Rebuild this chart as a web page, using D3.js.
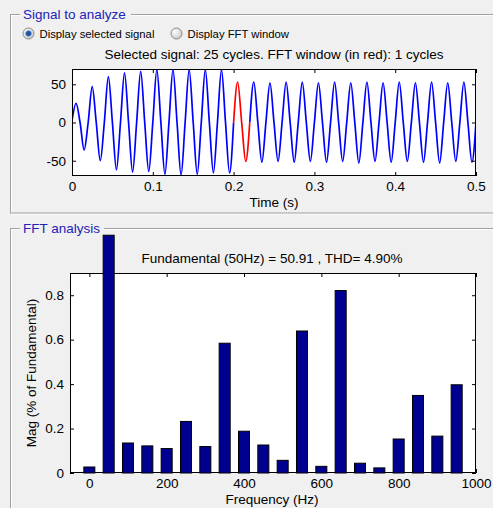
<!DOCTYPE html>
<html><head><meta charset="utf-8">
<script src="https://cdn.jsdelivr.net/npm/d3@7"></script>
<style>
html,body{margin:0;padding:0;background:#f0f0f0;overflow:hidden;}
svg{display:block;font-family:"Liberation Sans",Arial,sans-serif;}
</style></head><body>
<script>
// ---------- data ----------
const signalStartValue = 2;
// extrema of each half cycle (50 Hz signal, 25 cycles)
const halfCycleExtrema = [
  25,-36, 47,-50, 60,-62, 65,-65, 67,-64,
  69,-68, 69,-69, 69,-68, 69,-66, 69,-66,
  53,-51, 53,-52, 52,-51, 53,-52, 53,-51,
  52,-52, 53,-51, 52,-53, 53,-51, 52,-52,
  53,-51, 52,-52, 53,-53, 52,-51, 53,-52
];
const fftWindow = [0.2, 0.22];
const timeTicks = [0, 0.1, 0.2, 0.3, 0.4, 0.5];
const timeTickLabels = ["0", "0.1", "0.2", "0.3", "0.4", "0.5"];
const ampTicks = [-50, 0, 50];
const ampTickLabels = ["-50", "0", "50"];

const freqs = [0,50,100,150,200,250,300,350,400,450,500,550,600,650,700,750,800,850,900,950];
const mags  = [0.027,1.07,0.135,0.122,0.110,0.232,0.119,0.584,0.188,0.126,0.057,0.639,0.030,0.821,0.044,0.023,0.153,0.349,0.166,0.397];
const freqTicks = [0, 200, 400, 600, 800, 1000];
const freqTickLabels = ["0", "200", "400", "600", "800", "1000"];
const magTicks = [0, 0.2, 0.4, 0.6, 0.8];
const magTickLabels = ["0", "0.2", "0.4", "0.6", "0.8"];

const topTitle = "Selected signal: 25 cycles. FFT window (in red): 1 cycles";
const fftTitle = "Fundamental (50Hz) = 50.91 , THD= 4.90%";

// ---------- drawing ----------
const W = 493, H = 508;
const svg = d3.select("body").append("svg").attr("width", W).attr("height", H);
svg.append("rect").attr("width", W).attr("height", H).attr("fill", "#f0f0f0");

const FS = 13.5;

function groupBox(y, h, title, titleW) {
  const g = svg.append("g");
  g.append("rect").attr("x", 11.5).attr("y", y + 1).attr("width", 520).attr("height", h)
    .attr("fill", "none").attr("stroke", "#ffffff");
  g.append("rect").attr("x", 10.5).attr("y", y).attr("width", 520).attr("height", h)
    .attr("fill", "none").attr("stroke", "#a0a0a0");
  g.append("rect").attr("x", 20).attr("y", y - 8).attr("width", titleW).attr("height", 14).attr("fill", "#f0f0f0");
  g.append("text").attr("x", 23).attr("y", y + 4.5).attr("font-size", FS).attr("fill", "#2222b8").text(title);
}
groupBox(14.5, 198.5, "Signal to analyze", 111);
groupBox(228.5, 300, "FFT analysis", 84);

// radio buttons
function radio(cx, cy, selected, label) {
  const defs = svg.append("defs");
  const id = "rg" + cx;
  const gr = defs.append("radialGradient").attr("id", id).attr("cx", "35%").attr("cy", "35%").attr("r", "70%");
  gr.append("stop").attr("offset", "0%").attr("stop-color", "#ffffff");
  gr.append("stop").attr("offset", "100%").attr("stop-color", "#c8c8c8");
  svg.append("circle").attr("cx", cx).attr("cy", cy).attr("r", 5.5).attr("fill", `url(#${id})`).attr("stroke", "#8a8a8a");
  if (selected) {
    svg.append("circle").attr("cx", cx).attr("cy", cy).attr("r", 2.8).attr("fill", "#1f4f9f").attr("stroke", "#5a8ad0").attr("stroke-width", 0.8);
  }
  svg.append("text").attr("x", cx + 11).attr("y", cy + 4).attr("font-size", 11.3).attr("fill", "#000").text(label);
}
radio(28.5, 33.5, true, "Display selected signal");
radio(176.5, 33.5, false, "Display FFT window");

// ---------- top plot ----------
const tp = {l: 72, r: 476, t: 69, b: 176};
const xT = d3.scaleLinear().domain([0, 0.5]).range([tp.l, tp.r]);
const yA = d3.scaleLinear().domain([-70, 70]).range([tp.b, tp.t]);

svg.append("text").attr("x", (tp.l + tp.r) / 2).attr("y", 59).attr("text-anchor", "middle")
  .attr("font-size", FS).text(topTitle);

svg.append("rect").attr("x", tp.l).attr("y", tp.t).attr("width", tp.r - tp.l).attr("height", tp.b - tp.t).attr("fill", "#fff");
svg.append("clipPath").attr("id", "clipTop").append("rect")
  .attr("x", tp.l).attr("y", tp.t).attr("width", tp.r - tp.l).attr("height", tp.b - tp.t);

// points: start, then extremum / zero per half cycle
const pts = [{t: 0, v: signalStartValue}];
halfCycleExtrema.forEach((v, k) => {
  pts.push({t: 0.005 + 0.01 * k, v: v});
  pts.push({t: 0.01 * (k + 1), v: 0});
});
const eps = 1e-9;
const seg1 = pts.filter(p => p.t <= fftWindow[0] + eps);
const seg2 = pts.filter(p => p.t >= fftWindow[0] - eps && p.t <= fftWindow[1] + eps);
const seg3 = pts.filter(p => p.t >= fftWindow[1] - eps);
const line = d3.line().x(p => xT(p.t)).y(p => yA(p.v)).curve(d3.curveMonotoneX);
const gl = svg.append("g").attr("clip-path", "url(#clipTop)");
gl.append("path").attr("d", line(seg1)).attr("fill", "none").attr("stroke", "#0000ff").attr("stroke-width", 1.7);
gl.append("path").attr("d", line(seg3)).attr("fill", "none").attr("stroke", "#0000ff").attr("stroke-width", 1.7);
gl.append("path").attr("d", line(seg2)).attr("fill", "none").attr("stroke", "#ff0000").attr("stroke-width", 1.7);

function styleAxis(g, labels) {
  g.selectAll("text").attr("font-size", FS).attr("fill", "#000").attr("font-family", '"Liberation Sans",Arial,sans-serif');
  g.selectAll("line").attr("stroke", "#000");
  g.select(".domain").remove();
}
const axB = svg.append("g").attr("transform", `translate(0,${tp.b})`)
  .call(d3.axisBottom(xT).tickValues(timeTicks).tickFormat((d, i) => timeTickLabels[i]).tickSize(-4).tickPadding(5));
styleAxis(axB);
const axTT = svg.append("g").attr("transform", `translate(0,${tp.t})`)
  .call(d3.axisTop(xT).tickValues(timeTicks).tickFormat("").tickSize(-4));
styleAxis(axTT);
const axL = svg.append("g").attr("transform", `translate(${tp.l},0)`)
  .call(d3.axisLeft(yA).tickValues(ampTicks).tickFormat((d, i) => ampTickLabels[i]).tickSize(-4).tickPadding(6));
styleAxis(axL);
const axR = svg.append("g").attr("transform", `translate(${tp.r},0)`)
  .call(d3.axisRight(yA).tickValues(ampTicks).tickFormat("").tickSize(-4));
styleAxis(axR);
svg.append("rect").attr("x", tp.l + 0.5).attr("y", tp.t + 0.5).attr("width", tp.r - tp.l - 1).attr("height", tp.b - tp.t - 1)
  .attr("fill", "none").attr("stroke", "#000");
svg.append("text").attr("x", (tp.l + tp.r) / 2).attr("y", 207).attr("text-anchor", "middle").attr("font-size", FS).text("Time (s)");

// ---------- bottom plot ----------
const bp = {l: 70, r: 476, t: 273, b: 473};
const xF = d3.scaleLinear().domain([-50, 1000]).range([bp.l, bp.r]);
const yM = d3.scaleLinear().domain([0, 0.9]).range([bp.b, bp.t]);

svg.append("text").attr("x", 272).attr("y", 263).attr("text-anchor", "middle").attr("font-size", FS).text(fftTitle);
svg.append("rect").attr("x", bp.l).attr("y", bp.t).attr("width", bp.r - bp.l).attr("height", bp.b - bp.t).attr("fill", "#fff");

const axFB = svg.append("g").attr("transform", `translate(0,${bp.b})`)
  .call(d3.axisBottom(xF).tickValues(freqTicks).tickFormat((d, i) => freqTickLabels[i]).tickSize(-4).tickPadding(5));
styleAxis(axFB);
const axFT = svg.append("g").attr("transform", `translate(0,${bp.t})`)
  .call(d3.axisTop(xF).tickValues(freqTicks).tickFormat("").tickSize(-4));
styleAxis(axFT);
const axML = svg.append("g").attr("transform", `translate(${bp.l},0)`)
  .call(d3.axisLeft(yM).tickValues(magTicks).tickFormat((d, i) => magTickLabels[i]).tickSize(-4).tickPadding(6));
styleAxis(axML);
const axMR = svg.append("g").attr("transform", `translate(${bp.r},0)`)
  .call(d3.axisRight(yM).tickValues(magTicks).tickFormat("").tickSize(-4));
styleAxis(axMR);
svg.append("rect").attr("x", bp.l + 0.5).attr("y", bp.t + 0.5).attr("width", bp.r - bp.l - 1).attr("height", bp.b - bp.t - 1)
  .attr("fill", "none").attr("stroke", "#000");

const bw = (xF(50) - xF(0)) * 0.57;
svg.append("g").selectAll("rect").data(freqs).join("rect")
  .attr("x", (d) => xF(d) - bw / 2)
  .attr("y", (d, i) => yM(mags[i]))
  .attr("width", bw)
  .attr("height", (d, i) => yM(0) - yM(mags[i]))
  .attr("fill", "#000090").attr("stroke", "#000").attr("stroke-width", 1);

svg.append("text").attr("x", 272).attr("y", 504).attr("text-anchor", "middle").attr("font-size", FS).text("Frequency (Hz)");
svg.append("text").attr("transform", `translate(36,${(bp.t + bp.b) / 2}) rotate(-90)`)
  .attr("text-anchor", "middle").attr("font-size", FS).text("Mag (% of Fundamental)");
</script>
</body></html>
